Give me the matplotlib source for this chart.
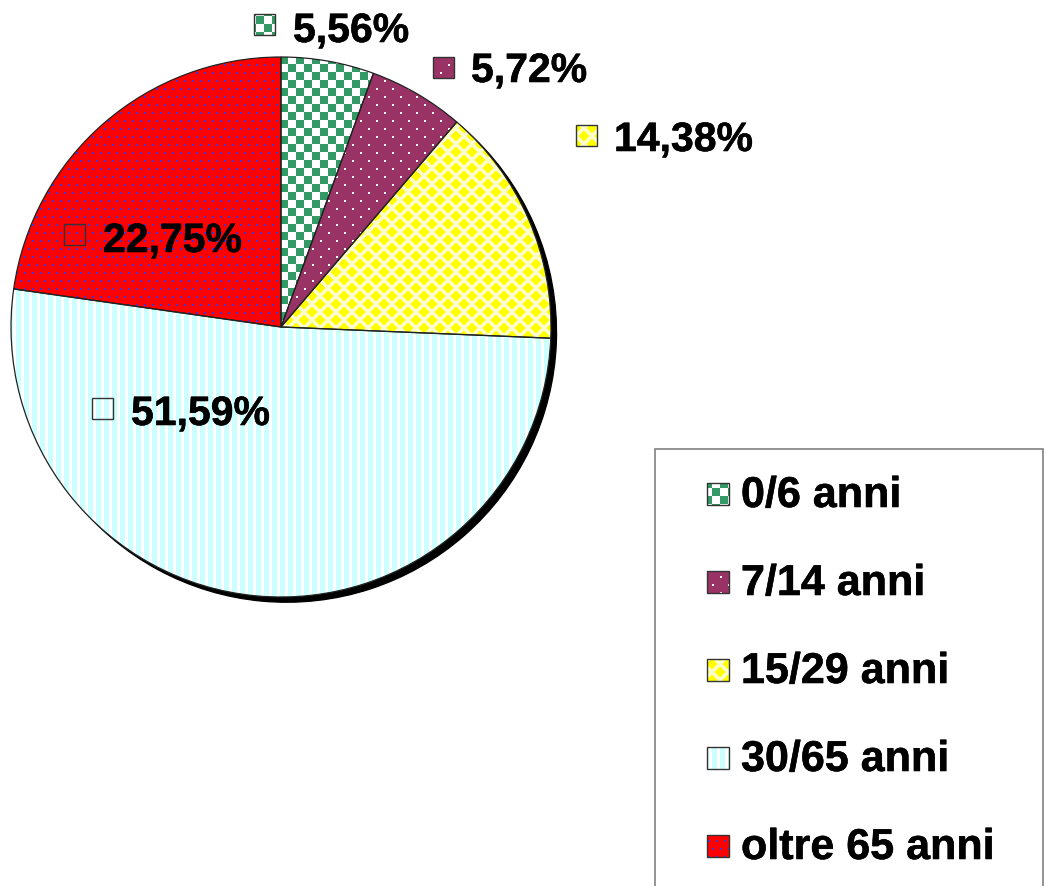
import numpy as np
import matplotlib.pyplot as plt
import matplotlib.patheffects as pe
from matplotlib.patches import Rectangle
from matplotlib.colors import to_rgb

# dati
categorie = ['0/6 anni', '7/14 anni', '15/29 anni', '30/65 anni', 'oltre 65 anni']
percentuali = [5.56, 5.72, 14.38, 51.59, 22.75]
etichette = [f'{p:.2f}%'.replace('.', ',') for p in percentuali]

# colori delle trame (fondo, segno)
fondi = ['white', '#993366', '#FFFFCC', 'white', '#FF0000']
segni = ['#339966', 'white', '#FFFF00', '#CCFFFF', '#5030C0']

W, H = 1046, 886
font = 'Liberation Sans'
grassetto = [pe.withStroke(linewidth=0.4, foreground='black')]

# posizioni etichette in pixel (x, y dall'alto)
pos_chiavi = [(254, 14), (433, 57), (576, 125), (92, 398), (64, 224)]
pos_testi = [(293, 42), (471, 82), (614, 151), (131, 425), (103, 252)]

yy, xx = np.mgrid[0:H, 0:W]
riga8 = (yy // 8) % 2
p = (xx + yy + 1) % 16
q = (xx - yy) % 16
dp = np.minimum(p, 16 - p)
dq = np.minimum(q, 16 - q)

maschere = [
    (xx // 8 + yy // 8) % 2 == 0,                       # scacchi
    (yy % 8 < 2) & ((xx + 8 * riga8) % 16 < 2),          # puntini bianchi
    np.maximum(dp, dq) < 6,                              # rombi
    xx % 8 < 5,                                          # righe verticali
    (yy % 8 < 2) & ((xx + 4 * riga8) % 8 < 2),           # puntini blu
]


def trama(fondo, segno, maschera):
    img = np.empty((H, W, 3), dtype=np.uint8)
    img[:] = (np.array(to_rgb(fondo)) * 255).round().astype(np.uint8)
    img[maschera] = (np.array(to_rgb(segno)) * 255).round().astype(np.uint8)
    return img


trame = [trama(f, s, m) for f, s, m in zip(fondi, segni, maschere)]

fig = plt.figure(figsize=(W / 100, H / 100), dpi=100)
ax = fig.add_axes([0, 0, 1, 1])

spicchi, _ = ax.pie(percentuali, center=(281, H - 327), radius=270,
                    startangle=90, counterclock=False,
                    wedgeprops=dict(facecolor='none', edgecolor='#222222',
                                    linewidth=0.9, zorder=3),
                    shadow=dict(ox=4.0, oy=-3.8, shade=1.0, facecolor='black',
                                edgecolor='black', alpha=1, zorder=0.5))

for i, w in enumerate(spicchi):
    im = ax.imshow(trame[i], extent=(0, W, 0, H), origin='upper',
                   interpolation='nearest', zorder=2)
    im.set_clip_path(w)


def chiave(x, y, i, s=21):
    r = Rectangle((x, H - y - s), s, s, facecolor='none',
                  edgecolor='#333333', linewidth=1, zorder=5)
    ax.add_patch(r)
    im = ax.imshow(trame[i], extent=(0, W, 0, H), origin='upper',
                   interpolation='nearest', zorder=4)
    im.set_clip_path(r)


# etichette percentuali
for i in range(len(percentuali)):
    chiave(pos_chiavi[i][0], pos_chiavi[i][1], i)
    ax.text(pos_testi[i][0], H - pos_testi[i][1], etichette[i],
            fontsize=29.5, fontweight='bold', family=font,
            ha='left', va='baseline', zorder=6, path_effects=grassetto)

# legenda
ax.add_patch(Rectangle((655, -10), 388, H - 449 + 10, facecolor='white',
                       edgecolor='#808080', linewidth=1.2, zorder=3))
for i, nome in enumerate(categorie):
    base = 507 + 88 * i
    chiave(707, base - 24, i, s=22)
    ax.text(741, H - base, nome, fontsize=31, fontweight='bold', family=font,
            ha='left', va='baseline', zorder=6, path_effects=grassetto)

ax.set_xlim(0, W)
ax.set_ylim(0, H)
ax.axis('off')

fig.savefig('out.png', dpi=100)
